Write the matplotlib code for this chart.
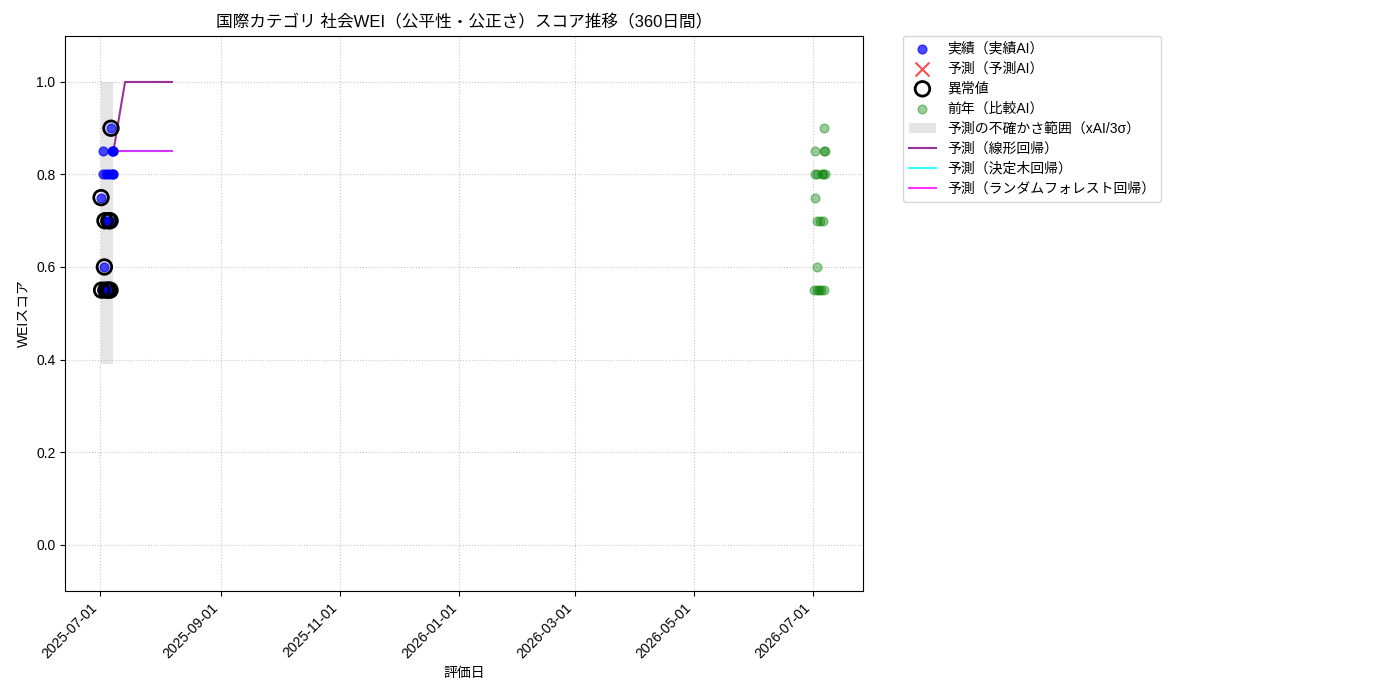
import matplotlib
matplotlib.use("Agg")
import matplotlib.pyplot as plt
import matplotlib.dates as mdates
import pandas as pd

plt.rcParams['font.family'] = ['Liberation Sans', 'Noto Sans CJK JP', 'DejaVu Sans']

# 実績（実績AI）
actual_dates = pd.to_datetime([
    "2025-07-01 12:00", "2025-07-01 19:00", "2025-07-02 10:00", "2025-07-02 17:00",
    "2025-07-03 00:00", "2025-07-03 05:00", "2025-07-03 12:00", "2025-07-03 19:00",
    "2025-07-04 00:00", "2025-07-04 17:00", "2025-07-05 00:00", "2025-07-05 05:00",
    "2025-07-05 12:00", "2025-07-06 02:00", "2025-07-06 03:00", "2025-07-06 14:00",
    "2025-07-06 19:00", "2025-07-07 02:00", "2025-07-07 10:00", "2025-07-07 12:00",
    "2025-07-07 19:00", "2025-07-07 19:00",
])
actual_scores = [
    0.75, 0.55, 0.80, 0.85, 0.55, 0.60, 0.70, 0.80, 0.55, 0.70, 0.80, 0.55,
    0.70, 0.55, 0.70, 0.90, 0.80, 0.85, 0.80, 0.85, 0.85, 0.80,
]
outlier_flags = [
    True, True, False, False, False, True, True, False, True, False, False, True,
    True, True, True, True, False, False, False, False, False, False,
]

# 前年（比較AI）
prev_dates = pd.to_datetime([
    "2026-07-06 19:00", "2026-07-02 00:00", "2026-07-06 19:00", "2026-07-07 02:00",
    "2026-07-02 00:00", "2026-07-03 00:00", "2026-07-05 12:00", "2026-07-06 12:00",
    "2026-07-07 07:00", "2026-07-02 00:00", "2026-07-03 05:00", "2026-07-04 19:00",
    "2026-07-06 07:00", "2026-07-03 05:00", "2026-07-01 12:00", "2026-07-03 00:00",
    "2026-07-04 00:00", "2026-07-05 00:00", "2026-07-06 14:00",
])
prev_scores = [
    0.90, 0.85, 0.85, 0.85, 0.80, 0.80, 0.80, 0.80, 0.80, 0.75, 0.70, 0.70,
    0.70, 0.60, 0.55, 0.55, 0.55, 0.55, 0.55,
]

# 予測（30日間）
forecast_dates = pd.date_range("2025-07-07 19:00", periods=31, freq="D")
pred_linear = [0.85, 0.875, 0.90, 0.925, 0.95, 0.975] + [1.0] * 25
pred_tree = [0.85] * 31
pred_forest = [0.85] * 31

band_lower = 0.39
band_upper = 1.0

fig = plt.figure(figsize=(14, 7), dpi=100)
ax = fig.add_axes([0.0465, 0.156, 0.5700, 0.793])

ax.scatter(actual_dates, actual_scores, color='blue', alpha=0.7, s=40, label='実績（実績AI）', zorder=3)
ax.scatter([], [], marker='x', color='red', alpha=0.7, s=100, label='予測（予測AI）')
out_d = [d for d, f in zip(actual_dates, outlier_flags) if f]
out_s = [s for s, f in zip(actual_scores, outlier_flags) if f]
ax.scatter(out_d, out_s, facecolors='none', edgecolors='black', linewidths=2, s=110, label='異常値', zorder=4)
ax.scatter(prev_dates, prev_scores, color='green', alpha=0.4, s=40, label='前年（比較AI）', zorder=3)
ax.fill_between([actual_dates.min(), actual_dates.max()], band_lower, band_upper,
                color='gray', alpha=0.2, linewidth=0, label='予測の不確かさ範囲（xAI/3σ）')
ax.plot(forecast_dates, pred_linear, color='purple', alpha=0.8, linewidth=1.5, label='予測（線形回帰）')
ax.plot(forecast_dates, pred_tree, color='cyan', alpha=0.8, linewidth=1.5, label='予測（決定木回帰）')
ax.plot(forecast_dates, pred_forest, color='magenta', alpha=0.8, linewidth=1.5, label='予測（ランダムフォレスト回帰）')

ax.set_xlim(pd.Timestamp("2025-06-13 02:00"), pd.Timestamp("2026-07-26 19:00"))
ax.set_ylim(-0.1, 1.1)
ax.xaxis.set_major_locator(mdates.MonthLocator(bymonth=[1, 3, 5, 7, 9, 11]))
ax.xaxis.set_major_formatter(mdates.DateFormatter('%Y-%m-%d'))
plt.setp(ax.get_xticklabels(), rotation=45, ha='right')

ax.grid(True, linestyle=':', alpha=0.7)
ax.set_title('国際カテゴリ 社会WEI（公平性・公正さ）スコア推移（360日間）', fontsize=12)
ax.set_xlabel('評価日')
ax.set_ylabel('WEIスコア')
ax.legend(loc='upper left', bbox_to_anchor=(1.05, 1), borderaxespad=0, labelspacing=0.44)

fig.savefig("out.png")
